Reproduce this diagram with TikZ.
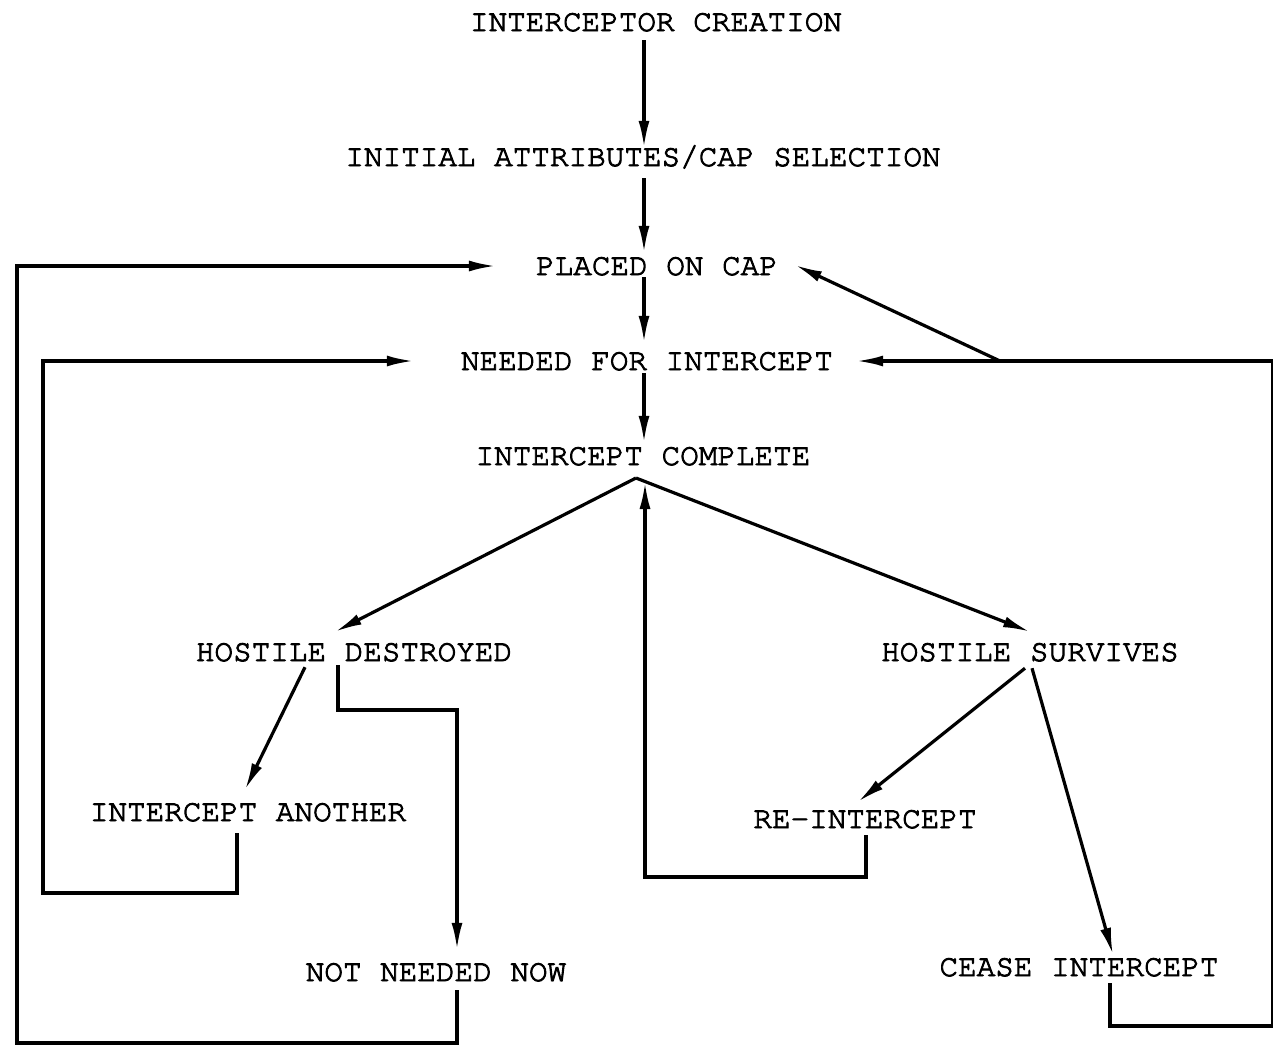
\documentclass[tikz,border=0pt]{standalone}
\usepackage[T1]{fontenc}
\usepackage{courier}
\usetikzlibrary{arrows.meta}

% slightly heavier type, like the typewriter original
\newcommand\heavytext[1]{\special{pdf:literal direct 2 Tr 0.9 w}#1\special{pdf:literal direct 0 Tr}}

\tikzset{
  lbl/.style={font=\ttfamily\fontsize{31}{36}\selectfont, inner sep=0pt, text height=18pt, text depth=0pt},
  arr/.style={-{Latex[length=27pt,width=11pt]}, line width=3.2pt},
  ln/.style={line width=3.2pt}
}

\begin{document}
\begin{tikzpicture}[x=1pt, y=-1pt, line join=miter]
    \useasboundingbox (0,0) rectangle (1273,1047);

    % states
    \node[lbl] (create) at (656,22) {\heavytext{INTERCEPTOR CREATION}};
    \node[lbl] (init) at (643,157) {\heavytext{INITIAL ATTRIBUTES/CAP SELECTION}};
    \node[lbl] (placed) at (657,266) {\heavytext{PLACED ON CAP}};
    \node[lbl] (needed) at (647,361) {\heavytext{NEEDED FOR INTERCEPT}};
    \node[lbl] (complete) at (643,456) {\heavytext{INTERCEPT COMPLETE}};
    \node[lbl] (destroyed) at (354,652) {\heavytext{HOSTILE DESTROYED}};
    \node[lbl] (survives) at (1030,652) {\heavytext{HOSTILE SURVIVES}};
    \node[lbl] (another) at (248,812) {\heavytext{INTERCEPT ANOTHER}};
    \node[lbl] (reint) at (865,819) {\heavytext{RE-INTERCEPT}};
    \node[lbl] (notneeded) at (436,972) {\heavytext{NOT NEEDED NOW}};
    \node[lbl] (cease) at (1079,967) {\heavytext{CEASE INTERCEPT}};

    \coordinate (spine) at (644,0);
    \coordinate (apex) at (636,478);
    \coordinate (fork) at (1000,361);

    % main line
    \draw[arr, shorten <=9pt] (create.south -| spine) -- (init.north -| spine);
    \draw[arr, shorten <=12pt] (init.south -| spine) -- ([yshift=4pt]placed.north -| spine);
    \draw[arr, shorten <=2pt] (placed.south -| spine) -- ([yshift=9pt]needed.north -| spine);
    \draw[arr, shorten <=3pt] (needed.south -| spine) -- ([yshift=4pt]complete.north -| spine);

    % outcome of the intercept
    \draw[arr] (apex) -- ([xshift=-19pt,yshift=11pt]destroyed.north);
    \draw[arr] (apex) -- ([yshift=11pt]survives.north);

    \draw[arr] ([xshift=-49pt,yshift=-6pt]destroyed.south) -- ([xshift=-3pt,yshift=13pt]another.north);
    \draw[arr] ([xshift=-16pt,yshift=-4pt]destroyed.south) |- (457,710) -- ([yshift=13pt]notneeded.north -| 457,0);

    \draw[arr] ([xshift=-5pt,yshift=-7pt]survives.south) -- ([xshift=-7pt,yshift=8pt]reint.north);
    \draw[arr] ([xshift=2pt,yshift=-7pt]survives.south) -- ([xshift=34pt,yshift=3pt]cease.north);

    % loops back
    \draw[arr] ([xshift=1pt,yshift=-7pt]reint.south) |- (645,877) -- ([yshift=-4pt]apex -| 645,0);
    \draw[arr] ([xshift=-11pt,yshift=-12pt]another.south) |- (43,893) |- ([xshift=-47pt]needed.west);
    \draw[arr] ([xshift=21pt,yshift=-9pt]notneeded.south) |- (17,1043) |- ([xshift=-40pt]placed.west);
    \draw[ln] ([xshift=31pt,yshift=-7pt]cease.south) |- (1273,1026) -- (1273,361) -- (fork);
    \draw[arr] (fork) -- ([xshift=23pt]needed.east);
    \draw[arr] (fork) -- ([xshift=17pt,yshift=1pt]placed.east);
\end{tikzpicture}
\end{document}
